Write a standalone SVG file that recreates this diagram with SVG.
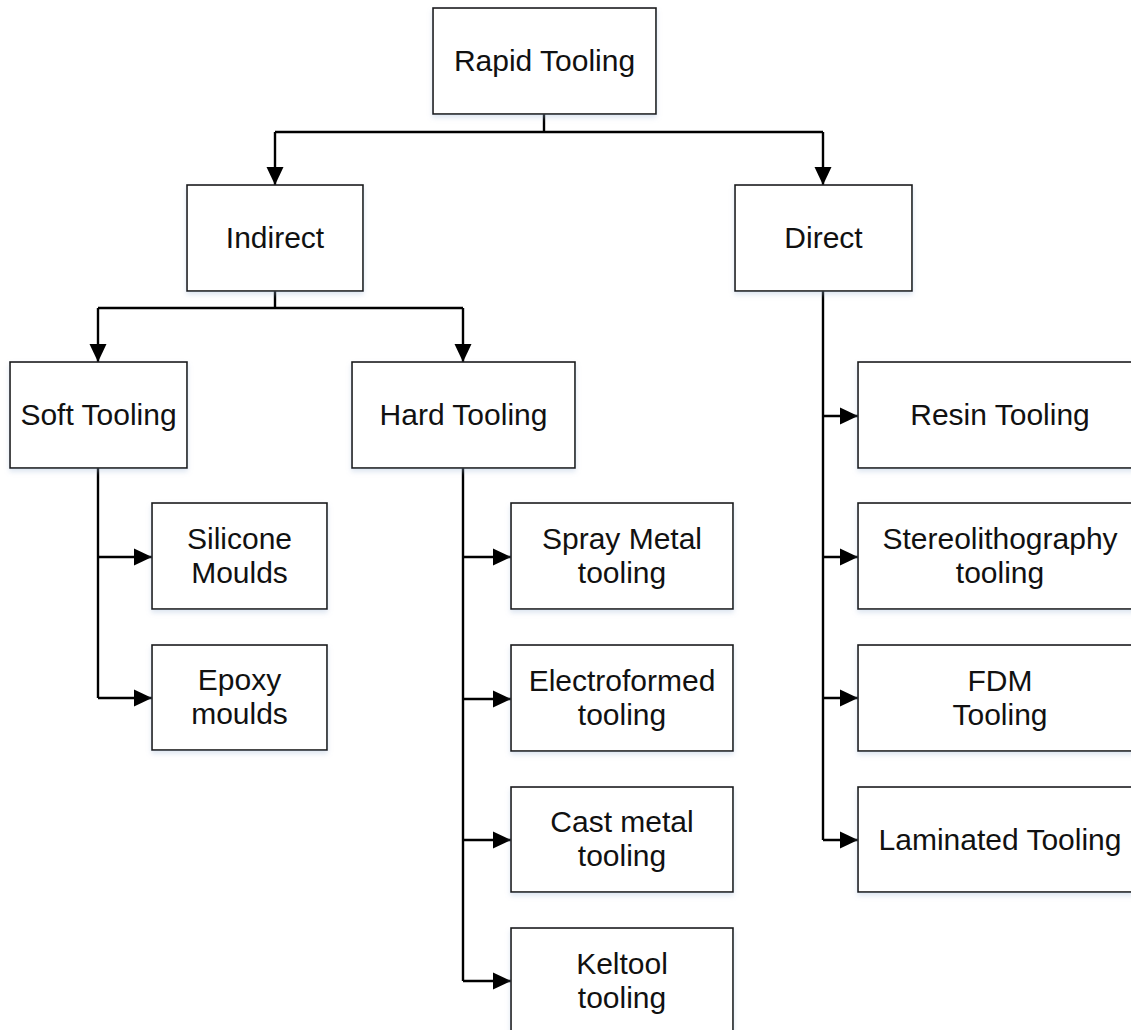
<svg xmlns="http://www.w3.org/2000/svg" width="1131" height="1030" viewBox="0 0 1131 1030">
<style>
.box{fill:#fff;stroke:#1a1a1a;stroke-width:1.6;filter:url(#sh)}
.t{font-family:"Liberation Sans",Arial,sans-serif;font-size:30px;fill:#111;text-anchor:middle}
.c{fill:none;stroke:#000;stroke-width:2.4}
</style>
<defs>
<filter id="sh" x="-10%" y="-10%" width="120%" height="130%">
<feDropShadow dx="0" dy="3" stdDeviation="2.5" flood-color="#9fb6d6" flood-opacity="0.35"/>
</filter>
<marker id="ah" markerUnits="userSpaceOnUse" markerWidth="20" markerHeight="20" viewBox="0 0 20 20" refX="18" refY="10" orient="auto">
<path d="M0,1.5 L18,10 L0,18.5 Z" fill="#000"/>
</marker>
</defs>
<g id="connectors">
<path class="c" d="M544,114 V132"/>
<path class="c" d="M275,132 H823"/>
<path class="c" d="M275,132 V185" marker-end="url(#ah)"/>
<path class="c" d="M823,132 V185" marker-end="url(#ah)"/>
<path class="c" d="M275,291 V308"/>
<path class="c" d="M98,308 H463"/>
<path class="c" d="M98,308 V362" marker-end="url(#ah)"/>
<path class="c" d="M463,308 V362" marker-end="url(#ah)"/>
<path class="c" d="M98,468 V698"/>
<path class="c" d="M98,557 H152" marker-end="url(#ah)"/>
<path class="c" d="M98,698 H152" marker-end="url(#ah)"/>
<path class="c" d="M463,468 V981"/>
<path class="c" d="M463,557 H511" marker-end="url(#ah)"/>
<path class="c" d="M463,699 H511" marker-end="url(#ah)"/>
<path class="c" d="M463,840 H511" marker-end="url(#ah)"/>
<path class="c" d="M463,981 H511" marker-end="url(#ah)"/>
<path class="c" d="M823,291 V840"/>
<path class="c" d="M823,416 H858" marker-end="url(#ah)"/>
<path class="c" d="M823,557 H858" marker-end="url(#ah)"/>
<path class="c" d="M823,698 H858" marker-end="url(#ah)"/>
<path class="c" d="M823,840 H858" marker-end="url(#ah)"/>
</g>
<g id="rapid"><rect class="box" x="433" y="8" width="223" height="106"/><text class="t" x="544.5" y="71">Rapid Tooling</text></g>
<g id="indirect"><rect class="box" x="187" y="185" width="176" height="106"/><text class="t" x="275" y="248">Indirect</text></g>
<g id="direct"><rect class="box" x="735" y="185" width="177" height="106"/><text class="t" x="823.5" y="248">Direct</text></g>
<g id="soft"><rect class="box" x="10" y="362" width="177" height="106"/><text class="t" x="98.5" y="425">Soft Tooling</text></g>
<g id="hard"><rect class="box" x="352" y="362" width="223" height="106"/><text class="t" x="463.5" y="425">Hard Tooling</text></g>
<g id="silicone"><rect class="box" x="152" y="503" width="175" height="106"/><text class="t" x="239.5" y="549">Silicone</text><text class="t" x="239.5" y="583">Moulds</text></g>
<g id="epoxy"><rect class="box" x="152" y="645" width="175" height="105"/><text class="t" x="239.5" y="690">Epoxy</text><text class="t" x="239.5" y="724">moulds</text></g>
<g id="spray"><rect class="box" x="511" y="503" width="222" height="106"/><text class="t" x="622" y="549">Spray Metal</text><text class="t" x="622" y="583">tooling</text></g>
<g id="electro"><rect class="box" x="511" y="645" width="222" height="106"/><text class="t" x="622" y="691">Electroformed</text><text class="t" x="622" y="725">tooling</text></g>
<g id="cast"><rect class="box" x="511" y="787" width="222" height="105"/><text class="t" x="622" y="832">Cast metal</text><text class="t" x="622" y="866">tooling</text></g>
<g id="keltool"><rect class="box" x="511" y="928" width="222" height="108"/><text class="t" x="622" y="974">Keltool</text><text class="t" x="622" y="1008">tooling</text></g>
<g id="resin"><rect class="box" x="858" y="362" width="284" height="106"/><text class="t" x="1000" y="425">Resin Tooling</text></g>
<g id="stereo"><rect class="box" x="858" y="503" width="284" height="106"/><text class="t" x="1000" y="549">Stereolithography</text><text class="t" x="1000" y="583">tooling</text></g>
<g id="fdm"><rect class="box" x="858" y="645" width="284" height="106"/><text class="t" x="1000" y="691">FDM</text><text class="t" x="1000" y="725">Tooling</text></g>
<g id="laminated"><rect class="box" x="858" y="787" width="284" height="105"/><text class="t" x="1000" y="850">Laminated Tooling</text></g>
</svg>
